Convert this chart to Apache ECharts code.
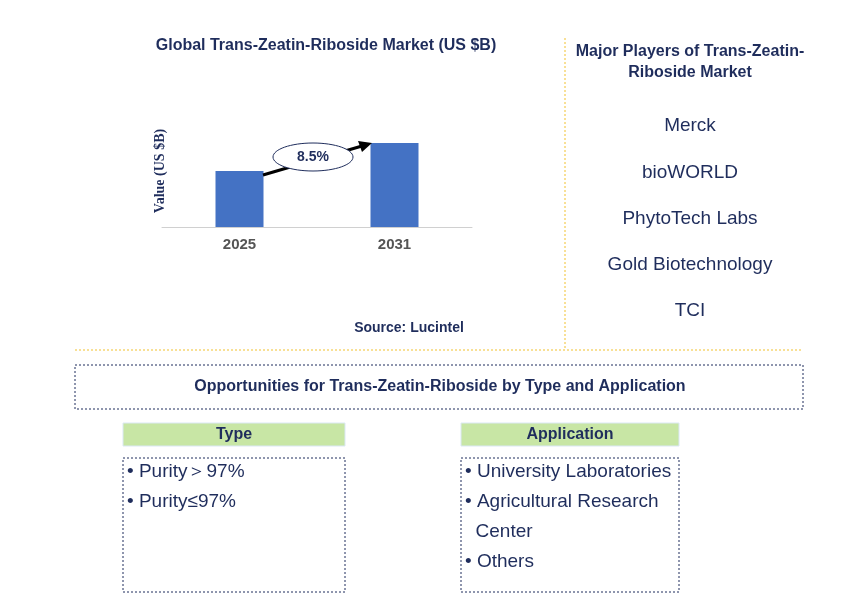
<!DOCTYPE html>
<html>
<head>
<meta charset="utf-8">
<script src="https://cdn.jsdelivr.net/npm/echarts@6/dist/echarts.min.js"></script>
<style>
  html, body { margin: 0; padding: 0; background: #fff; }
  #main { width: 868px; height: 612px; }
</style>
</head>
<body>
<div id="main"></div>
<script>
// data
var years = ['2025', '2031'];
var values = [1.0, 1.5];
var cagr = '8.5%';
var players = ['Merck', 'bioWORLD', 'PhytoTech Labs', 'Gold Biotechnology', 'TCI'];
var types = ['• Purity＞97%', '• Purity≤97%'];
var applications = ['• University Laboratories', '• Agricultural Research', '  Center', '• Others'];

var navy = '#1f2d5c';
var gold = '#f2c12e';
var font = 'Arial, "Liberation Sans", sans-serif';

let chart = echarts.init(document.getElementById('main'));

var graphics = [
    // cagr arrow + ellipse
    { type: 'line', shape: { x1: 263, y1: 175, x2: 362, y2: 146 }, style: { stroke: '#000', lineWidth: 3 }, z: 10 },
    { type: 'polygon', shape: { points: [[372, 143], [358, 141], [362, 152]] }, style: { fill: '#000' }, z: 10 },
    { type: 'ellipse', shape: { cx: 313, cy: 157, rx: 40, ry: 14 }, style: { fill: '#fff', stroke: navy, lineWidth: 1 }, z: 11 },
    { type: 'text', x: 313, y: 157, style: { text: cagr, fill: navy, font: 'bold 14px ' + font, align: 'center', verticalAlign: 'middle' }, z: 12 },
    // titles
    { type: 'text', x: 326, y: 46, style: { text: 'Global Trans-Zeatin-Riboside Market (US $B)', fill: navy, font: 'bold 16px ' + font, align: 'center', verticalAlign: 'middle' } },
    { type: 'text', x: 409, y: 328, style: { text: 'Source: Lucintel', fill: navy, font: 'bold 14px ' + font, align: 'center', verticalAlign: 'middle' } },
    { type: 'text', x: 690, y: 62, style: { text: 'Major Players of Trans-Zeatin-\nRiboside Market', fill: navy, font: 'bold 16px ' + font, align: 'center', verticalAlign: 'middle', lineHeight: 21 } },
    // separators
    { type: 'line', shape: { x1: 565, y1: 38, x2: 565, y2: 348 }, style: { stroke: gold, lineWidth: 1, lineDash: [2, 2] } },
    { type: 'line', shape: { x1: 75, y1: 350, x2: 803, y2: 350 }, style: { stroke: gold, lineWidth: 1, lineDash: [2, 2] } },
    // opportunities box
    { type: 'rect', shape: { x: 75, y: 365, width: 728, height: 44 }, style: { fill: 'none', stroke: navy, lineWidth: 1, lineDash: [2, 2] } },
    { type: 'text', x: 440, y: 387, style: { text: 'Opportunities for Trans-Zeatin-Riboside by Type and Application', fill: navy, font: 'bold 16px ' + font, align: 'center', verticalAlign: 'middle' } },
    // headers
    { type: 'rect', shape: { x: 123, y: 423, width: 222, height: 23 }, style: { fill: '#c8e6a5', stroke: '#dbe8f5', lineWidth: 1 } },
    { type: 'text', x: 234, y: 435, style: { text: 'Type', fill: navy, font: 'bold 16px ' + font, align: 'center', verticalAlign: 'middle' } },
    { type: 'rect', shape: { x: 461, y: 423, width: 218, height: 23 }, style: { fill: '#c8e6a5', stroke: '#dbe8f5', lineWidth: 1 } },
    { type: 'text', x: 570, y: 435, style: { text: 'Application', fill: navy, font: 'bold 16px ' + font, align: 'center', verticalAlign: 'middle' } },
    { type: 'rect', shape: { x: 123, y: 458, width: 222, height: 134 }, style: { fill: 'none', stroke: navy, lineWidth: 1, lineDash: [2, 2] } },
    { type: 'rect', shape: { x: 461, y: 458, width: 218, height: 134 }, style: { fill: 'none', stroke: navy, lineWidth: 1, lineDash: [2, 2] } }
];

players.forEach(function (p, i) {
    graphics.push({ type: 'text', x: 690, y: 126 + i * 46.3, style: { text: p, fill: navy, font: '19px ' + font, align: 'center', verticalAlign: 'middle' } });
});
types.forEach(function (t, i) {
    graphics.push({ type: 'text', x: 127, y: 472 + i * 30, style: { text: t, fill: navy, font: '19px ' + font, verticalAlign: 'middle' } });
});
applications.forEach(function (t, i) {
    graphics.push({ type: 'text', x: 465, y: 472 + i * 30, style: { text: t, fill: navy, font: '19px ' + font, verticalAlign: 'middle', whiteSpace: 'pre' } });
});

chart.setOption({
    animation: false,
    grid: {
        left: 162,
        right: 396,
        top: 115,
        bottom: 385
    },
    xAxis: {
        type: 'category',
        data: years,
        axisLine: { lineStyle: { color: '#d0d0d0', width: 1 } },
        axisTick: { show: false },
        axisLabel: { color: '#555', fontSize: 15, fontWeight: 'bold', fontFamily: font, margin: 10 }
    },
    yAxis: {
        type: 'value',
        min: 0,
        max: 2,
        name: 'Value (US $B)',
        nameLocation: 'center',
        nameRotate: 90,
        nameGap: -5,
        nameTextStyle: { color: navy, fontSize: 14, fontWeight: 'bold', fontFamily: '"Liberation Serif", serif' },
        axisLine: { show: false },
        axisTick: { show: false },
        axisLabel: { show: false },
        splitLine: { show: false }
    },
    series: [
        {
            type: 'bar',
            data: values,
            barWidth: 48,
            itemStyle: { color: '#4472c4' }
        }
    ],
    graphic: graphics
});
</script>
</body>
</html>
